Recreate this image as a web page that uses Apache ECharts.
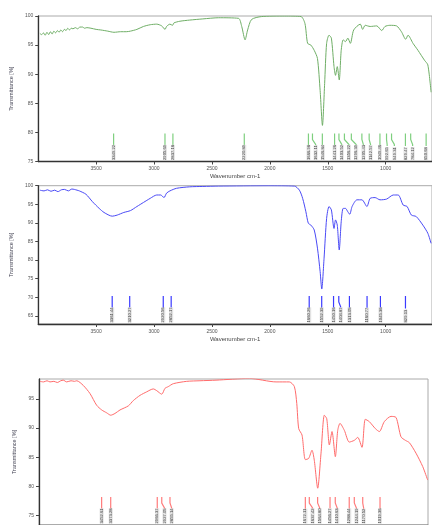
<!DOCTYPE html>
<html><head><meta charset="utf-8">
<script src="https://cdn.jsdelivr.net/npm/echarts@6/dist/echarts.min.js"></script>
<style>html,body{margin:0;padding:0;background:#fff}#c{width:432px;height:525px}</style>
</head><body><div id="c"></div>
<script>
// ---------- DATA ----------
var xTicks = [1000, 1500, 2000, 2500, 3000, 3500];
var greenTicks = [75, 80, 85, 90, 95, 100];
var blueTicks = [65, 70, 75, 80, 85, 90, 95, 100];
var redTicks = [75, 80, 85, 90, 95];

var greenWn = [3986,3970,3955,3940,3925,3910,3895,3880,3865,3850,3835,3820,3805,3790,3775,3760,3745,3730,3715,3700,3680,3660,3640,3617,3600,3580,3545,3500,3460,3400,3346,3289,3240,3204,3148,3092,3033,2977,2934,2905,2892,2863,2840,2829,2777,2692,2579,2442,2271,2243,2214,2192,2158,2073,1873,1731,1697,1674,1646,1617,1589,1566,1546,1527,1510,1489,1469,1446,1433,1418,1401,1384,1367,1347,1327,1305,1276,1219,1199,1177,1134,1077,1034,1006,964,906,864,827,807,764,721,665,636,608];
var greenT  = [97.0,96.8,97.1,96.7,97.2,96.8,97.3,96.9,97.4,97.1,97.5,97.2,97.6,97.3,97.7,97.5,97.9,97.6,97.9,97.8,98.0,97.8,98.1,98.1,97.9,98.0,97.9,97.7,97.6,97.4,97.2,97.3,97.3,97.4,97.7,98.2,98.5,98.6,98.3,97.7,98.2,98.6,98.4,98.8,99.1,99.3,99.5,99.7,99.6,98.2,95.9,97.6,99.4,99.9,100,99.9,98.7,95.3,95.0,94.1,92.7,87.2,81.2,88.4,95.3,96.7,96.2,91.3,89.8,91.3,89.0,94.1,95.9,95.6,96.2,95.3,97.6,98.6,97.7,98.4,98.2,98.3,97.5,98.2,98.4,98.3,97.3,96.0,96.7,95.3,94.1,92.4,91.6,86.9];

var blueWn = [3986,3950,3920,3890,3858,3830,3800,3773,3740,3710,3688,3665,3645,3588,3532,3474,3432,3361,3318,3261,3204,3148,3091,3033,2977,2943,2914,2892,2863,2806,2692,2579,2442,2015,1788,1745,1717,1689,1668,1646,1617,1589,1566,1552,1532,1510,1489,1469,1446,1433,1418,1401,1384,1367,1347,1327,1310,1290,1248,1205,1162,1134,1091,1049,992,934,892,849,815,778,736,679,636,608];
var blueT  = [98.8,98.6,98.9,98.5,98.8,98.4,98.9,99.0,98.6,99.1,99.0,98.8,98.6,97.7,95.7,93.9,92.8,91.8,92.1,92.8,93.3,94.4,95.5,96.6,97.5,97.5,96.8,98.0,98.6,99.3,99.7,99.8,99.9,100,99.9,98.8,96.6,93.0,89.9,89.4,88.1,83.2,76.9,72.2,80.5,91.2,94.4,93.5,88.5,90.8,89.4,82.7,90.3,93.9,93.9,93.0,92.3,94.4,96.2,96.2,94.4,96.6,96.8,96.2,96.4,97.5,97.5,94.8,94.4,92.1,91.7,89.4,87.2,84.5];

var redWn = [3991,3960,3930,3904,3870,3840,3810,3788,3758,3720,3690,3670,3613,3554,3496,3452,3408,3373,3336,3292,3219,3176,3117,3059,3001,2971,2927,2899,2870,2826,2709,2593,2453,2162,1928,1812,1768,1747,1730,1701,1672,1643,1614,1594,1564,1535,1506,1485,1462,1439,1410,1389,1369,1331,1288,1244,1214,1177,1148,1113,1060,1025,982,923,879,836,798,763,705,646,603];
var redT  = [98.0,97.9,98.1,97.9,98.0,97.8,98.1,98.2,97.9,98.1,98.0,98.1,97.3,95.9,93.9,93.1,92.6,92.2,92.5,93.1,93.8,94.7,95.6,96.2,96.7,96.4,95.8,96.8,97.1,97.6,98.0,98.1,98.2,98.5,97.9,97.9,97.1,94.2,89.9,88.8,84.6,84.8,86.2,84.5,79.7,85.7,92.2,91.6,87.1,89.4,85.1,89.6,90.8,89.6,87.6,87.9,88.4,86.7,91.5,91.1,89.9,89.4,91.1,92.0,91.8,88.5,87.9,87.5,85.7,83.4,81.1];

var greenPeaks = [3349.22,2905.69,2837.18,2220.89,1666.98,1632.11,1546.84,1441.26,1403.52,1356.22,1296.39,1205.43,1142.57,1049.46,992.65,949.31,829.47,784.12,650.68];
var bluePeaks = [3361.44,3210.27,2920.56,2852.17,1660.26,1552.39,1450.16,1404.87,1313.05,1160.77,1045.36,829.13];
var redPeaks = [3452.61,3373.28,2966.37,2927.05,2855.14,1672.11,1637.42,1564.80,1456.27,1410.63,1288.44,1244.19,1170.52,1019.36];

// ---------- HELPERS ----------
function pairs(a, b) { return a.map(function (v, i) { return [v, b[i]]; }); }
function plain(v) { return String(v); }

function markerRender(peaks, color, bg) {
  return function (params, api) {
    var cs = params.coordSys;
    var bottom = cs.y + cs.height;
    var xs = peaks.map(function (p) { return api.coord([p, api.value(1)])[0]; });
    var lx = [];
    for (var i = 0; i < xs.length; i++) {
      lx[i] = i === 0 ? xs[0] : Math.max(xs[i], lx[i - 1] + 7.2);
    }
    var k = params.dataIndex;
    var px = xs[k], tx = lx[k];
    var pts = Math.abs(tx - px) < 0.5
      ? [[px, bottom - 28], [px, bottom - 15.5]]
      : [[px, bottom - 28], [px, bottom - 22], [tx, bottom - 17], [tx, bottom - 15.5]];
    return {
      type: 'group',
      children: [
        { type: 'polyline', shape: { points: pts }, style: { stroke: color, lineWidth: 1.2, fill: null } },
        { type: 'text', x: tx, y: bottom - 1.5, rotation: Math.PI / 2,
          style: { text: peaks[k].toFixed(2), fontSize: 4.2, fill: '#444', align: 'left', verticalAlign: 'middle',
                   backgroundColor: bg, fontFamily: 'Liberation Sans' } }
      ]
    };
  };
}

function yAx(idx, min, max, ticks) {
  return {
    gridIndex: idx, type: 'value', min: min, max: max,
    name: 'Transmittance [%]', nameLocation: 'middle', nameGap: idx === 2 ? 22 : 21,
    nameTextStyle: { fontSize: 5.5, color: '#445', fontFamily: 'Liberation Sans' },
    axisLine: { show: true, lineStyle: { color: '#333', width: 1.3 } },
    axisTick: { show: true, length: 3, customValues: ticks, lineStyle: { color: '#444' } },
    axisLabel: { fontSize: 5, color: '#555', margin: 5, customValues: ticks, formatter: plain, fontFamily: 'Liberation Sans' },
    splitLine: { show: false }
  };
}
function xAx(idx, showName) {
  return {
    gridIndex: idx, type: 'value', min: 600, max: 4000, inverse: true,
    name: showName ? 'Wavenumber cm-1' : '', nameLocation: 'middle', nameGap: 12,
    nameTextStyle: { fontSize: 6, color: '#444', fontFamily: 'Liberation Sans' },
    axisLine: { show: true, lineStyle: { color: '#333', width: 1.3 } },
    axisTick: { show: true, length: 3, customValues: xTicks, lineStyle: { color: '#444' } },
    axisLabel: { show: showName, fontSize: 5, color: '#555', margin: 5, customValues: xTicks, formatter: plain, fontFamily: 'Liberation Sans' },
    splitLine: { show: false }
  };
}

var chart = echarts.init(document.getElementById('c'), null, { renderer: 'canvas' });
chart.setOption({
  animation: false,
  backgroundColor: '#fff',
  grid: [
    { left: 34, top: 16, width: 398, height: 145.5, show: true, borderColor: '#aaa', borderWidth: 1 },
    { left: 34, top: 185.7, width: 398, height: 138.3, show: true, borderColor: '#aaa', borderWidth: 1 },
    { left: 39, top: 379, width: 389, height: 146, show: true, borderColor: '#aaa', borderWidth: 1 }
  ],
  xAxis: [xAx(0, true), xAx(1, true), xAx(2, false)],
  yAxis: [yAx(0, 75, 100, greenTicks), yAx(1, 62.8, 100, blueTicks), yAx(2, 73.4, 98.4, redTicks)],
  series: [
    { type: 'line', xAxisIndex: 0, yAxisIndex: 0, data: pairs(greenWn, greenT), showSymbol: false, smooth: 0.25,
      lineStyle: { color: '#6fae66', width: 1 } },
    { type: 'line', xAxisIndex: 1, yAxisIndex: 1, data: pairs(blueWn, blueT), showSymbol: false, smooth: 0.25,
      lineStyle: { color: '#4a4af5', width: 1 } },
    { type: 'line', xAxisIndex: 2, yAxisIndex: 2, data: pairs(redWn, redT), showSymbol: false, smooth: 0.25,
      lineStyle: { color: '#ff6b6b', width: 1 } },
    { type: 'custom', xAxisIndex: 0, yAxisIndex: 0, data: greenPeaks.map(function (p) { return [p, 80]; }),
      renderItem: markerRender(greenPeaks, '#7fcf7f', '#e6e6e6'), clip: false },
    { type: 'custom', xAxisIndex: 1, yAxisIndex: 1, data: bluePeaks.map(function (p) { return [p, 70]; }),
      renderItem: markerRender(bluePeaks, '#3a3aff', '#e2e2e2'), clip: false },
    { type: 'custom', xAxisIndex: 2, yAxisIndex: 2, data: redPeaks.map(function (p) { return [p, 80]; }),
      renderItem: markerRender(redPeaks, '#ff7b7b', '#e2e2e2'), clip: false }
  ]
});
</script></body></html>
